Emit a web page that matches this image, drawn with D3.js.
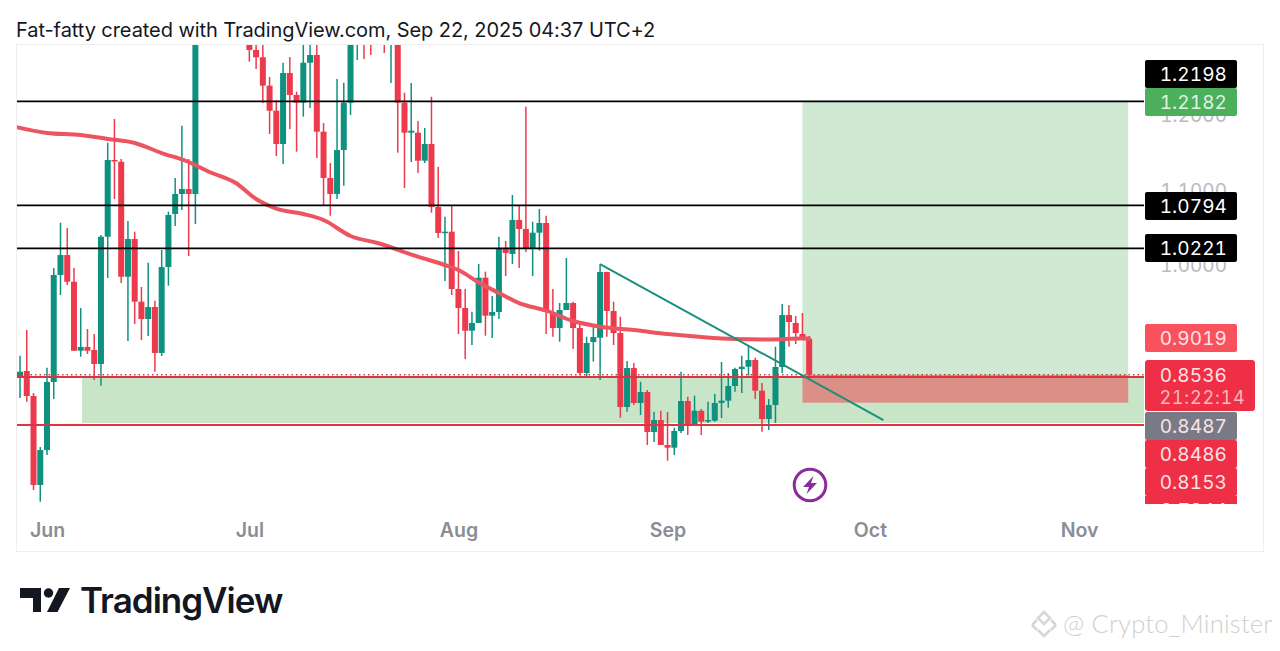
<!DOCTYPE html>
<html>
<head>
<meta charset="utf-8">
<script src="https://cdn.jsdelivr.net/npm/d3@7"></script>
<style>
  html, body { margin: 0; background: #fff; overflow: hidden; }
  text { font-family: Inter, "Noto Sans", sans-serif; }
  .num text, text.num { font-variant-numeric: tabular-nums; font-feature-settings: "tnum"; }
</style>
</head>
<body>
<script>
// daily candles, first one is May 28 2025. null = candle is above the pane
var firstDay = Date.UTC(2025, 4, 28);
var opens = [.8497,.8587,.8253,.7067,.7533,.8440,.9867,1.0133,.9777,.8857,.8907,.8867,.8680,1.0377,1.14,1.1377,.9844,1.0347,.9511,.928,.944,.8827,.9973,1.068,1.0947,1.1013,1.0947,
  null,null,null,null,null,null,null,
  1.2933,1.2867,1.2769,1.2391,1.2057,1.1613,1.256,1.2267,1.2164,1.2697,1.28,1.1777,1.116,1.0947,1.1533,1.2164,1.31,1.34,1.33,null,1.34,1.31,1.34,1.2164,1.1764,1.1764,1.1391,1.1613,1.0773,1.0427,1.0444,.968,.9427,.9124,.9227,.9831,.9324,.9373,1.0227,1.0147,1.06,1.048,1.0213,1.0431,1.056,.9364,.916,.94,.9493,.916,.856,.8973,.9031,.9907,.9387,.9093,.8107,.8627,.816,.8307,.7773,.7933,.76,.7564,.7787,.8187,.7867,.8057,.792,.7924,.816,.8191,.8387,.8613,.8644,.8733,.8324,.7947,.8133,.864,.9333,.9227,.908,.9013];
var highs = [.8791,.9133,.8293,.7573,.8631,.9960,1.0564,1.0493,.9960,.9427,.9147,.9080,1.04,1.1631,1.1947,1.1413,1.0587,1.0444,.9707,1.0031,.9524,1.02,1.0711,1.116,1.1857,1.1413,1.36,
  null,null,null,null,null,null,null,
  1.31,1.31,1.30,1.2507,1.22,1.2697,1.2773,1.2311,1.31,1.31,1.31,1.1893,1.136,1.248,1.2431,1.36,1.36,1.35,1.35,null,1.36,1.36,1.36,1.2297,1.2427,1.192,1.1827,1.2244,1.1307,1.0644,1.08,1.0187,.968,.9377,1.0013,.9911,.9587,1.0377,1.032,1.0933,1.0787,1.2111,1.0577,1.0747,1.0657,.968,.9493,1.0093,.9511,.9227,.9044,.9177,1.0013,.9911,.9511,.9311,.872,.8693,.8444,.8333,.8044,.8057,.804,.7831,.8577,.8244,.8257,.808,.8177,.828,.8707,.856,.8631,.8791,.8924,.8764,.8427,.8213,.8911,.948,.9467,.932,.936,.9053];
var lows = [.8227,.8177,.7000,.6844,.7467,.8213,.96,.9733,.8853,.8777,.8813,.8467,.8391,.9827,1.088,.976,.8987,.9213,.9,.9053,.8577,.8787,.9724,1.052,1.0733,1.012,1.0547,
  null,null,null,null,null,null,null,
  1.2711,1.2613,1.216,1.1747,1.1453,1.1347,1.1813,1.1511,1.1977,1.2093,1.1427,1.0791,1.0657,1.088,1.1057,1.2,1.2733,1.2747,1.28,null,1.2827,1.2427,1.1497,1.1027,1.1373,1.1227,1.136,1.0697,1.036,.9787,.96,.908,.8747,.8933,.9227,.9057,.9027,.928,.9853,1.0013,.996,1.0173,.9853,1.0191,.908,.9044,.8977,.94,.888,.8533,.8511,.8711,.8467,.9044,.8933,.7964,.8044,.8133,.8,.76,.764,.76,.7391,.7467,.776,.7733,.7867,.7733,.7893,.7911,.796,.8097,.8311,.8293,.8524,.8213,.7777,.78,.7893,.856,.8911,.8947,.9027,.8493];
var closes = [.8577,.8253,.7067,.7533,.8440,.9867,1.0133,.9777,.8857,.8907,.8857,.8680,1.0377,1.14,1.1387,.9844,1.0347,.9511,.928,.944,.8827,.9973,1.0667,1.0947,1.1013,1.0947,1.34,
  null,null,null,null,null,null,null,
  1.2867,1.2769,1.2391,1.2057,1.1613,1.256,1.2267,1.2164,1.2697,1.28,1.1777,1.116,1.0947,1.1533,1.2164,1.33,1.34,1.31,1.31,null,1.31,1.34,1.2164,1.1764,1.1791,1.1391,1.1613,1.0773,1.0427,1.0444,.968,.9427,.9124,.9227,.9831,.9324,.9373,1.0227,1.016,1.06,1.048,1.0213,1.0431,1.056,.9377,.916,.94,.9493,.916,.856,.896,.904,.9907,.9387,.9093,.8107,.8627,.816,.8307,.7773,.7933,.76,.7564,.7787,.8187,.7867,.8057,.7911,.7933,.816,.8191,.8387,.8613,.8644,.8733,.8324,.7947,.8133,.864,.9333,.924,.9093,.9027,.8536];

// moving average, read at a few days (day number counted from firstDay)
var maDays = [-1,4,9,13,17,21,25,28,32,35,38,42,45,49,53,59,63,65,68,71,74,78,82,86,91,96,101,106,111,116,117];
var maValues = [1.1847,1.176,1.1733,1.168,1.1627,1.1493,1.1373,1.1244,1.1093,1.088,1.0753,1.068,1.06,1.0387,1.0293,1.0111,1,.9933,.9767,.9627,.9493,.9391,.9253,.9177,.9133,.908,.904,.9013,.9007,.9019,.9019];

var blackLevels = [1.2182, 1.0794, 1.0221];
var redLevels = [.8507, .7867];
var lastPrice = .8536;
var stopPrice = .8164;
var zoneDay = 9.2, boxDays = [116, 164.3];
var trendDays = [86, 128], trendPrices = [1.0013, .7933];

var monthTicks = [Date.UTC(2025,5,1), Date.UTC(2025,6,1), Date.UTC(2025,7,1), Date.UTC(2025,8,1), Date.UTC(2025,9,1), Date.UTC(2025,10,1)];
var priceTicks = [1.2, 1.1, 1.0];
// axis tags, top to bottom
var tagTexts = ["1.2198","1.2182","1.0794","1.0221","0.9019","0.8487","0.8486","0.8153"];
var tagColors = ["#000","#4caf5c","#000","#000","#f9515d","#787b86","#ee2f45","#ee2f45"];
var tagTops = [60,88,192,234,324,412,440,468];

var green = "#0f9180", red = "#ec3a4c";
var width = 1280, height = 651;
var left = 17, right = 1144, top_ = 45, bottom = 504;

var svg = d3.select("body").append("svg").attr("width", width).attr("height", height).style("display", "block");

var x = d3.scaleUtc().domain([monthTicks[0], monthTicks[5]]).range([47, 1079]);
var y = d3.scaleLinear().domain([1, 1.2]).range([265, 115]);
function day(n) { return x(firstDay + n * 864e5); }

svg.append("text").attr("x", 16).attr("y", 36.5).attr("font-size", 20).attr("letter-spacing", -0.07).attr("fill", "#131722")
   .text("Fat-fatty created with TradingView.com, Sep 22, 2025 04:37 UTC+2");

// pane border
svg.append("rect").attr("x", 16.5).attr("y", 44.5).attr("width", 1247).attr("height", 507)
   .attr("fill", "none").attr("stroke", "#eeeeee");

svg.append("clipPath").attr("id", "pane").append("rect")
   .attr("x", left).attr("y", top_).attr("width", right - left).attr("height", bottom - top_);
var pane = svg.append("g").attr("clip-path", "url(#pane)");

// demand zone
pane.append("rect").attr("x", day(zoneDay)).attr("width", right - day(zoneDay))
    .attr("y", y(redLevels[0]) + 1).attr("height", y(redLevels[1]) - y(redLevels[0]) - 3)
    .attr("fill", "#c9e5c8");
// target and stop boxes
pane.append("rect").attr("x", day(boxDays[0])).attr("width", day(boxDays[1]) - day(boxDays[0]))
    .attr("y", y(blackLevels[0])).attr("height", y(lastPrice) - y(blackLevels[0]))
    .attr("fill", "#cfe9d3");
pane.append("rect").attr("x", day(boxDays[0])).attr("width", day(boxDays[1]) - day(boxDays[0]))
    .attr("y", y(lastPrice)).attr("height", y(stopPrice) - y(lastPrice))
    .attr("fill", "#dc8f86");

var candles = d3.range(opens.length).filter(function(i) { return opens[i] !== null; });
function col(i) { return closes[i] >= opens[i] ? green : red; }

pane.selectAll("line.wick").data(candles).join("line").attr("class", "wick")
    .attr("x1", function(i) { return day(i); }).attr("x2", function(i) { return day(i); })
    .attr("y1", function(i) { return y(highs[i]); }).attr("y2", function(i) { return y(lows[i]); })
    .attr("stroke", col).attr("stroke-width", 1.5);
pane.selectAll("rect.body").data(candles).join("rect").attr("class", "body")
    .attr("x", function(i) { return day(i) - 3; }).attr("width", 6)
    .attr("y", function(i) { return y(Math.max(opens[i], closes[i])); })
    .attr("height", function(i) { return Math.max(1.5, Math.abs(y(opens[i]) - y(closes[i]))); })
    .attr("fill", col);

var maLine = d3.line().x(function(d, i) { return day(maDays[i]); }).y(function(d) { return y(d); }).curve(d3.curveMonotoneX);
pane.append("path").attr("d", maLine(maValues)).attr("fill", "none")
    .attr("stroke", "#ec5560").attr("stroke-width", 4).attr("stroke-linecap", "round");

pane.selectAll("line.level").data(blackLevels).join("line").attr("class", "level")
    .attr("x1", left).attr("x2", right)
    .attr("y1", function(d) { return y(d); }).attr("y2", function(d) { return y(d); })
    .attr("stroke", "#000").attr("stroke-width", 1.7);
pane.selectAll("line.zone").data(redLevels).join("line").attr("class", "zone")
    .attr("x1", left).attr("x2", right)
    .attr("y1", function(d) { return y(d); }).attr("y2", function(d) { return y(d); })
    .attr("stroke", "#da3540").attr("stroke-width", 2);
pane.append("line").attr("x1", left).attr("x2", right)
    .attr("y1", y(lastPrice)).attr("y2", y(lastPrice))
    .attr("stroke", "#b5444a").attr("stroke-width", 1.4).attr("stroke-dasharray", "1.5 3");
pane.append("line").attr("x1", day(trendDays[0])).attr("x2", day(trendDays[1]))
    .attr("y1", y(trendPrices[0])).attr("y2", y(trendPrices[1]))
    .attr("stroke", "#1c8f7c").attr("stroke-width", 2);

// axes
var xAxis = svg.append("g").attr("transform", "translate(0,520)")
    .call(d3.axisBottom(x).tickValues(monthTicks).tickFormat(d3.utcFormat("%b")).tickSize(0).tickPadding(2));
xAxis.select(".domain").remove();
xAxis.selectAll("text").attr("font-size", 19.5).attr("font-weight", 600).attr("fill", "#8a8d96")
     .style("font-family", "Inter, sans-serif").attr("dy", "0.78em");

var yAxis = svg.append("g").attr("class", "num").attr("transform", "translate(1227,0)")
    .call(d3.axisLeft(y).tickValues(priceTicks).tickFormat(d3.format(".4f")).tickSize(0).tickPadding(0));
yAxis.select(".domain").remove();
yAxis.selectAll("text").attr("font-size", 19).attr("fill", "#b9bbc0")
     .style("font-family", "Inter, sans-serif");

// price tags
var tags = svg.append("g").attr("class", "num");
tags.selectAll("rect").data(tagTexts).join("rect")
    .attr("x", 1145).attr("width", 92).attr("height", 28).attr("rx", 2)
    .attr("y", function(d, i) { return tagTops[i]; })
    .attr("fill", function(d, i) { return tagColors[i]; });
tags.selectAll("text").data(tagTexts).join("text")
    .attr("x", 1227).attr("text-anchor", "end").attr("font-size", 19).attr("letter-spacing", 0.1)
    .attr("y", function(d, i) { return tagTops[i] + 21; })
    .attr("fill", function(d, i) { return i == 1 ? "#dff3e1" : (i > 3 ? "#fbe3e5" : "#fff"); })
    .text(function(d) { return d; });
svg.append("rect").attr("x", 1145).attr("y", 360).attr("width", 110).attr("height", 51).attr("rx", 3).attr("fill", "#ee2f45");
svg.append("text").attr("class", "num").attr("x", 1227).attr("y", 382).attr("text-anchor", "end").attr("font-size", 19).attr("letter-spacing", 0.1)
   .attr("fill", "#fbe3e5").text("0.8536");
svg.append("text").attr("class", "num").attr("x", 1245.5).attr("y", 404).attr("text-anchor", "end").attr("font-size", 18).attr("letter-spacing", 0.8)
   .attr("fill", "#f8b7bd").text("21:22:14");
// tag cut off by the bottom of the scale
svg.append("rect").attr("x", 1145).attr("y", 496).attr("width", 92).attr("height", 8).attr("fill", "#ee2f45");
svg.append("clipPath").attr("id", "cut").append("rect").attr("x", 1145).attr("y", 496).attr("width", 92).attr("height", 8);
svg.append("text").attr("class", "num").attr("x", 1227).attr("y", 517).attr("text-anchor", "end").attr("font-size", 19)
   .attr("fill", "#fbe3e5").attr("clip-path", "url(#cut)").text("0.7944");

// lightning icon
var bolt = svg.append("g").attr("transform", "translate(810,485)");
bolt.append("circle").attr("r", 15.8).attr("fill", "#fff").attr("stroke", "#8a2c9c").attr("stroke-width", 3);
bolt.append("path").attr("d", "M3.5,-9L-7,2H-1L-3.5,9L7,-2H1Z").attr("fill", "#8a2c9c");

// logo
var logo = svg.append("g").attr("fill", "#131722");
logo.append("path").attr("d", "M20,588H41V612H33V598H20Z");
logo.append("circle").attr("cx", 48.5).attr("cy", 593).attr("r", 4.7);
logo.append("path").attr("d", "M59,588H70L57.5,612H47Z");
svg.append("text").attr("x", 80).attr("y", 613).attr("font-size", 35).attr("font-weight", 600)
   .attr("letter-spacing", -1).attr("fill", "#131722").text("TradingView");

// watermark
var mark = svg.append("g").attr("transform", "translate(1044,625)").attr("fill", "none").attr("stroke", "#d6d6d6").attr("stroke-width", 2.5);
mark.append("path").attr("d", "M0,-13L6,-7L0,-1L-6,-7Z");
mark.append("path").attr("d", "M-12,0L-7,-5M12,0L7,-5M-12,0L-7,5M12,0L7,5");
mark.append("path").attr("d", "M-6,5L0,11L6,5");
svg.append("text").attr("x", 1063).attr("y", 633).attr("font-size", 25.6).attr("fill", "#cfcfcf")
   .style("font-family", "Lato, sans-serif").attr("font-weight", 300).attr("letter-spacing", 0.2)
   .text("@ Crypto_Minister");
</script>
</body>
</html>
